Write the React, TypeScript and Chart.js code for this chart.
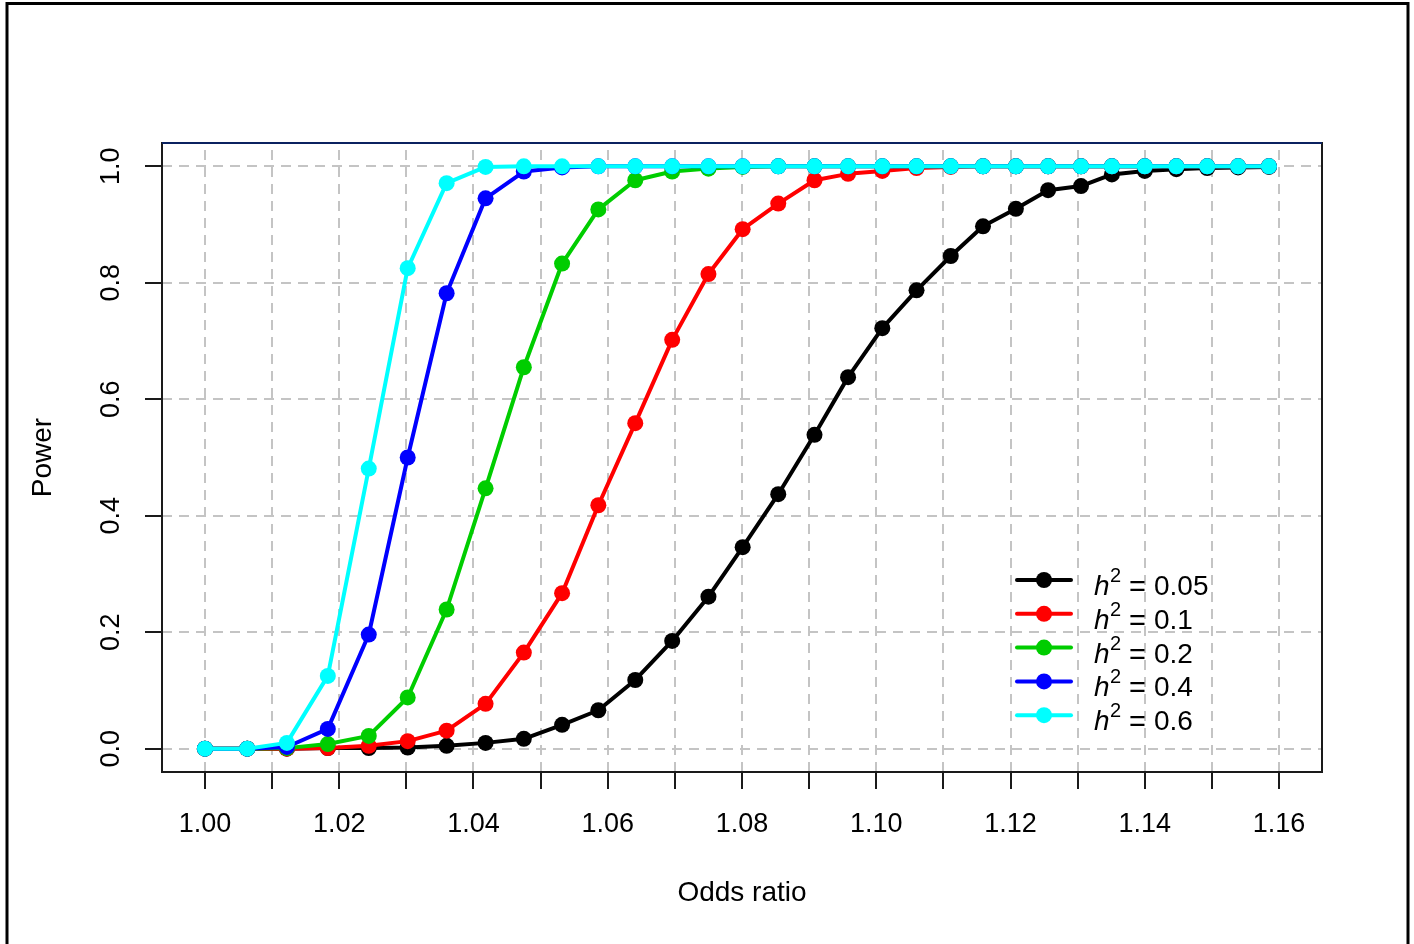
import React, { useEffect, useRef } from "react";
import { Chart, registerables } from "chart.js";

Chart.register(...registerables);

// Odds ratios at which power was evaluated
const oddsRatio = [
  1.0, 1.0063, 1.0122, 1.0183, 1.0244, 1.0302, 1.036, 1.0418, 1.0475, 1.0532,
  1.0586, 1.0641, 1.0696, 1.075, 1.0801, 1.0854, 1.0908, 1.0958, 1.1009, 1.106,
  1.1111, 1.1159, 1.1208, 1.1256, 1.1305, 1.1351, 1.14, 1.1447, 1.1493, 1.1539,
  1.1585,
];

const powerH005 = [
  0, 0, 0, 0.001, 0.001, 0.002, 0.005, 0.01, 0.017, 0.041,
  0.066, 0.118, 0.185, 0.261, 0.346, 0.437, 0.539, 0.638, 0.722, 0.787,
  0.846, 0.897, 0.927, 0.959, 0.966, 0.986, 0.992, 0.995, 0.997, 0.998,
  0.999,
];
const powerH01 = [
  0, 0, 0, 0.001, 0.005, 0.013, 0.031, 0.077, 0.165, 0.267,
  0.418, 0.559, 0.702, 0.815, 0.892, 0.936, 0.976, 0.987, 0.992, 0.997,
  0.999, 1, 1, 1, 1, 1, 1, 1, 1, 1,
  1,
];
const powerH02 = [
  0, 0, 0.001, 0.008, 0.022, 0.088, 0.239, 0.447, 0.655, 0.833,
  0.926, 0.976, 0.991, 0.996, 0.999, 1, 1, 1, 1, 1,
  1, 1, 1, 1, 1, 1, 1, 1, 1, 1,
  1,
];
const powerH04 = [
  0, 0, 0.003, 0.034, 0.196, 0.5, 0.782, 0.945, 0.991, 0.998,
  1, 1, 1, 1, 1, 1, 1, 1, 1, 1,
  1, 1, 1, 1, 1, 1, 1, 1, 1, 1,
  1,
];
const powerH06 = [
  0, 0, 0.01, 0.125, 0.481, 0.825, 0.971, 0.999, 1, 1,
  1, 1, 1, 1, 1, 1, 1, 1, 1, 1,
  1, 1, 1, 1, 1, 1, 1, 1, 1, 1,
  1,
];

const seriesValues = [powerH005, powerH01, powerH02, powerH04, powerH06];
const seriesLabels = ["0.05", "0.1", "0.2", "0.4", "0.6"];
const seriesColors = ["#000000", "#FF0000", "#00CD00", "#0000FF", "#00FFFF"];

const xGridTicks = [
  1.0, 1.01, 1.02, 1.03, 1.04, 1.05, 1.06, 1.07, 1.08, 1.09, 1.1, 1.11, 1.12,
  1.13, 1.14, 1.15, 1.16,
];
const xLabelTicks = [1.0, 1.02, 1.04, 1.06, 1.08, 1.1, 1.12, 1.14, 1.16];
const yTicks = [0, 0.2, 0.4, 0.6, 0.8, 1.0];

const xTitle = "Odds ratio";
const yTitle = "Power";

const FONT = "Arial, 'Liberation Sans', sans-serif";

const rPlotPlugin = {
  id: "rPlot",
  beforeDatasetsDraw(chart: any) {
    const { ctx, chartArea: a, scales } = chart;
    const x = scales.x;
    const y = scales.y;
    ctx.save();
    ctx.strokeStyle = "#C4C4C4";
    ctx.lineWidth = 2;
    ctx.setLineDash([10, 7]);
    for (const t of xGridTicks) {
      const px = Math.round(x.getPixelForValue(t));
      ctx.beginPath();
      ctx.moveTo(px, a.bottom);
      ctx.lineTo(px, a.top);
      ctx.stroke();
    }
    for (const t of yTicks) {
      const py = Math.round(y.getPixelForValue(t));
      ctx.beginPath();
      ctx.moveTo(a.left, py);
      ctx.lineTo(a.right, py);
      ctx.stroke();
    }
    ctx.restore();
  },
  afterDraw(chart: any) {
    const { ctx, chartArea: a, scales } = chart;
    const x = scales.x;
    const y = scales.y;
    ctx.save();
    ctx.setLineDash([]);

    // plot box
    ctx.strokeStyle = "#1a1a1a";
    ctx.lineWidth = 2;
    ctx.strokeRect(a.left, a.top, a.right - a.left, a.bottom - a.top);
    ctx.strokeStyle = "#0b2260";
    ctx.beginPath();
    ctx.moveTo(a.left, a.top);
    ctx.lineTo(a.right, a.top);
    ctx.stroke();

    // x ticks
    ctx.strokeStyle = "#1a1a1a";
    ctx.lineWidth = 2;
    for (const t of xGridTicks) {
      const px = Math.round(x.getPixelForValue(t));
      ctx.beginPath();
      ctx.moveTo(px, a.bottom);
      ctx.lineTo(px, a.bottom + 17);
      ctx.stroke();
    }
    // y ticks
    for (const t of yTicks) {
      const py = Math.round(y.getPixelForValue(t));
      ctx.beginPath();
      ctx.moveTo(a.left, py);
      ctx.lineTo(a.left - 17, py);
      ctx.stroke();
    }

    ctx.fillStyle = "#000";
    ctx.font = `27px ${FONT}`;
    ctx.textAlign = "center";
    ctx.textBaseline = "middle";
    for (const t of xLabelTicks) {
      const px = x.getPixelForValue(t);
      ctx.fillText(t.toFixed(2), px, a.bottom + 53);
    }
    for (const t of yTicks) {
      const py = y.getPixelForValue(t);
      ctx.save();
      ctx.translate(a.left - 50, py);
      ctx.rotate(-Math.PI / 2);
      ctx.fillText(t.toFixed(1), 0, 0);
      ctx.restore();
    }

    // axis titles
    ctx.font = `28px ${FONT}`;
    ctx.fillText(xTitle, (a.left + a.right) / 2, a.bottom + 121);
    ctx.save();
    ctx.translate(a.left - 119, (a.top + a.bottom) / 2);
    ctx.rotate(-Math.PI / 2);
    ctx.fillText(yTitle, 0, 0);
    ctx.restore();

    // legend
    const lx0 = a.right - 305;
    const lx1 = a.right - 251;
    const lpx = a.right - 278;
    const ly0 = a.top + 437;
    const lstep = 33.8;
    ctx.textAlign = "left";
    ctx.textBaseline = "alphabetic";
    seriesLabels.forEach((lab, i) => {
      const ry = ly0 + i * lstep;
      ctx.strokeStyle = seriesColors[i];
      ctx.lineWidth = 4;
      ctx.lineCap = "round";
      ctx.beginPath();
      ctx.moveTo(lx0, ry);
      ctx.lineTo(lx1, ry);
      ctx.stroke();
      ctx.fillStyle = seriesColors[i];
      ctx.beginPath();
      ctx.arc(lpx, ry, 8, 0, Math.PI * 2);
      ctx.fill();

      const base = ry + 15;
      ctx.fillStyle = "#000";
      ctx.font = `italic 28px ${FONT}`;
      ctx.fillText("h", a.right - 228, base);
      ctx.font = `20px ${FONT}`;
      ctx.fillText("2", a.right - 212, base - 13);
      ctx.font = `29px ${FONT}`;
      ctx.fillText("=", a.right - 193, base + 1);
      ctx.font = `28px ${FONT}`;
      ctx.fillText(lab, a.right - 168, base);
    });

    // outer frame
    ctx.strokeStyle = "#000";
    ctx.lineWidth = 3;
    ctx.lineCap = "butt";
    ctx.strokeRect(7, 3.5, 1401, 1100);
    ctx.restore();
  },
};

export default function App() {
  const ref = useRef<HTMLCanvasElement | null>(null);

  useEffect(() => {
    if (!ref.current) return;
    const datasets = seriesValues.map((vals, i) => ({
      label: "h2 = " + seriesLabels[i],
      data: oddsRatio.map((o, j) => ({ x: o, y: vals[j] })),
      borderColor: seriesColors[i],
      backgroundColor: seriesColors[i],
      pointBackgroundColor: seriesColors[i],
      pointBorderWidth: 0,
      pointRadius: 8,
      pointHoverRadius: 8,
      borderWidth: 4,
      borderCapStyle: "round" as const,
      borderJoinStyle: "round" as const,
      tension: 0,
      order: seriesValues.length - i,
      clip: false as any,
    }));
    const chart = new Chart(ref.current, {
      type: "line",
      data: { datasets },
      options: {
        animation: false,
        responsive: false,
        maintainAspectRatio: false,
        events: [],
        layout: { padding: { left: 162, top: 143, right: 92, bottom: 172 } },
        scales: {
          x: { type: "linear", min: 0.9936, max: 1.1664, display: false },
          y: { type: "linear", min: -0.04, max: 1.04, display: false },
        },
        plugins: {
          legend: { display: false },
          tooltip: { enabled: false },
          title: { display: false },
        },
      },
      plugins: [rPlotPlugin],
    });
    return () => chart.destroy();
  }, []);

  return (
    <div style={{ position: "absolute", left: 0, top: 0, width: 1414, height: 944, background: "#fff" }}>
      <canvas ref={ref} width={1414} height={944} style={{ display: "block" }} />
    </div>
  );
}
